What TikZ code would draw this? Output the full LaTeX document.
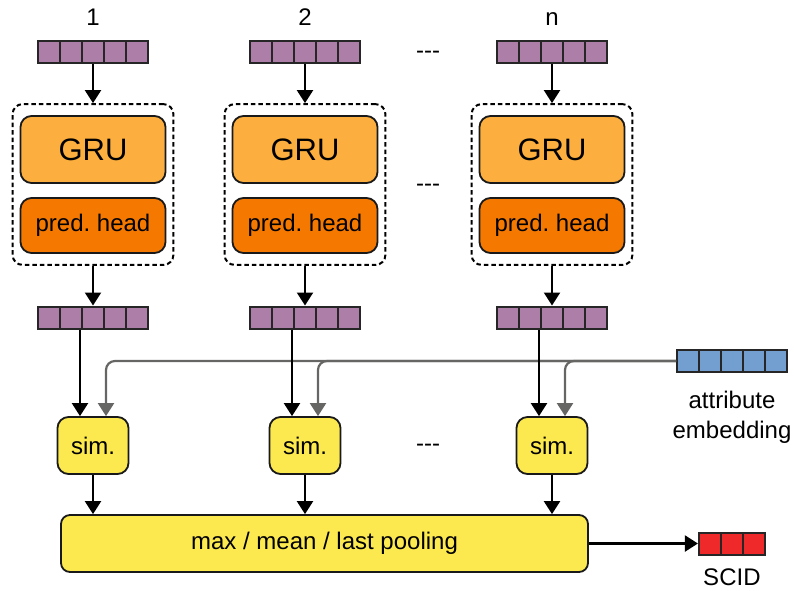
\documentclass[tikz,border=0pt]{standalone}
\usepackage{fontspec}
\setmainfont{Liberation Sans}
\usetikzlibrary{arrows.meta,positioning,calc,fit}
\definecolor{plum}{HTML}{AD7FA8}
\definecolor{skyblue}{HTML}{729FCF}
\definecolor{scarlet}{HTML}{EF2929}
\definecolor{orangelight}{HTML}{FCAF3E}
\definecolor{orangedark}{HTML}{F57900}
\definecolor{butter}{HTML}{FCE94F}
\definecolor{linkgray}{HTML}{666664}
\tikzset{
  vec/.style={rectangle, draw=black!85, line width=2pt, inner sep=0pt,
    minimum width=#1*22pt, minimum height=22pt,
    path picture={\foreach \k in {1,...,#1}
      \draw[black!85, line width=2pt]
        ($(path picture bounding box.south west)!\k/#1!(path picture bounding box.south east)$) --
        ($(path picture bounding box.north west)!\k/#1!(path picture bounding box.north east)$);}},
  vec/.default=5,
  blk/.style={rectangle, rounded corners=11pt, draw=black!90, line width=1.8pt, align=center},
  gru/.style={blk, fill=orangelight, minimum width=145pt, minimum height=67pt,
    font=\fontsize{31}{36}\selectfont},
  head/.style={blk, fill=orangedark, minimum width=145pt, minimum height=55pt},
  group/.style={rectangle, rounded corners=10pt, draw=black, line width=2pt,
    dash pattern=on 4.5pt off 3pt, inner xsep=7pt, inner ysep=11pt},
  simnode/.style={blk, fill=butter, minimum width=71pt, minimum height=57pt},
  poolnode/.style={blk, rounded corners=9pt, fill=butter, minimum width=527pt, minimum height=57pt},
  lbl/.style={inner sep=1pt, align=center},
  flow/.style={-{Triangle[length=13pt, width=16pt]}, line width=2.2pt, draw=black},
  attrflow/.style={-{Triangle[length=13pt, width=16pt]}, line width=2.2pt, draw=linkgray,
    rounded corners=9pt},
}
\begin{document}
\begin{tikzpicture}[x=1pt, y=-1pt, font=\fontsize{24}{29.5}\selectfont]
  \useasboundingbox (0,0) rectangle (794,590);
  % one column per sequence
  \node[vec, fill=plum] (in1) at (93,52) {};
  \node[vec, fill=plum] (in2) at (305,52) {};
  \node[vec, fill=plum] (inn) at (552,52) {};
  \node[lbl, anchor=base] (lab1) at (93,25) {1};
  \node[lbl, anchor=base] (lab2) at (305,25) {2};
  \node[lbl, anchor=base] (labn) at (552,25) {n};

  \node[gru] (gru1) at (93,149.5) {GRU};
  \node[gru] (gru2) at (305,149.5) {GRU};
  \node[gru] (grun) at (552,149.5) {GRU};
  \node[head] (head1) at (93,225.5) {pred.\ head};
  \node[head] (head2) at (305,225.5) {pred.\ head};
  \node[head] (headn) at (552,225.5) {pred.\ head};
  \node[group, fit=(gru1)(head1)] (grp1) {};
  \node[group, fit=(gru2)(head2)] (grp2) {};
  \node[group, fit=(grun)(headn)] (grpn) {};

  \node[vec, fill=plum] (out1) at (93,317.5) {};
  \node[vec, fill=plum] (out2) at (305,317.5) {};
  \node[vec, fill=plum] (outn) at (552,317.5) {};

  \node[simnode] (sim1) at (93,445.5) {sim.};
  \node[simnode] (sim2) at (305,445.5) {sim.};
  \node[simnode] (simn) at (552,445.5) {sim.};

  \node[lbl, anchor=base] (dots1) at (428,58.5) {{-}{-}{-}};
  \node[lbl, anchor=base] (dots2) at (428,191.5) {{-}{-}{-}};
  \node[lbl, anchor=base] (dots3) at (428,451.5) {{-}{-}{-}};

  \node[vec, fill=skyblue] (attr) at (732,361) {};
  \node[lbl, below=17pt of attr] (attrlab) {attribute\\embedding};

  \node[poolnode] (pool) at (324.5,543.5) {max / mean / last pooling};
  \node[vec=3, fill=scarlet, right=109pt of pool] (scid) {};
  \node[lbl, below=12pt of scid] (scidlab) {SCID};

  \draw[flow] (in1) -- (grp1);
  \draw[flow] (in2) -- (grp2);
  \draw[flow] (inn) -- (grpn);
  \draw[flow] (grp1) -- (out1);
  \draw[flow] (grp2) -- (out2);
  \draw[flow] (grpn) -- (outn);

  \draw[attrflow] (attr.west) -| ([xshift=13pt]sim1.north);
  \draw[attrflow] (attr.west) -| ([xshift=13pt]sim2.north);
  \draw[attrflow] (attr.west) -| ([xshift=13pt]simn.north);
  \draw[flow] ([xshift=-13pt]out1.south) -- ([xshift=-13pt]sim1.north);
  \draw[flow] ([xshift=-13pt]out2.south) -- ([xshift=-13pt]sim2.north);
  \draw[flow] ([xshift=-13pt]outn.south) -- ([xshift=-13pt]simn.north);

  \draw[flow] (sim1) -- (sim1 |- pool.north);
  \draw[flow] (sim2) -- (sim2 |- pool.north);
  \draw[flow] (simn) -- (simn |- pool.north);
  \draw[flow] (pool) -- (scid);
\end{tikzpicture}
\end{document}
